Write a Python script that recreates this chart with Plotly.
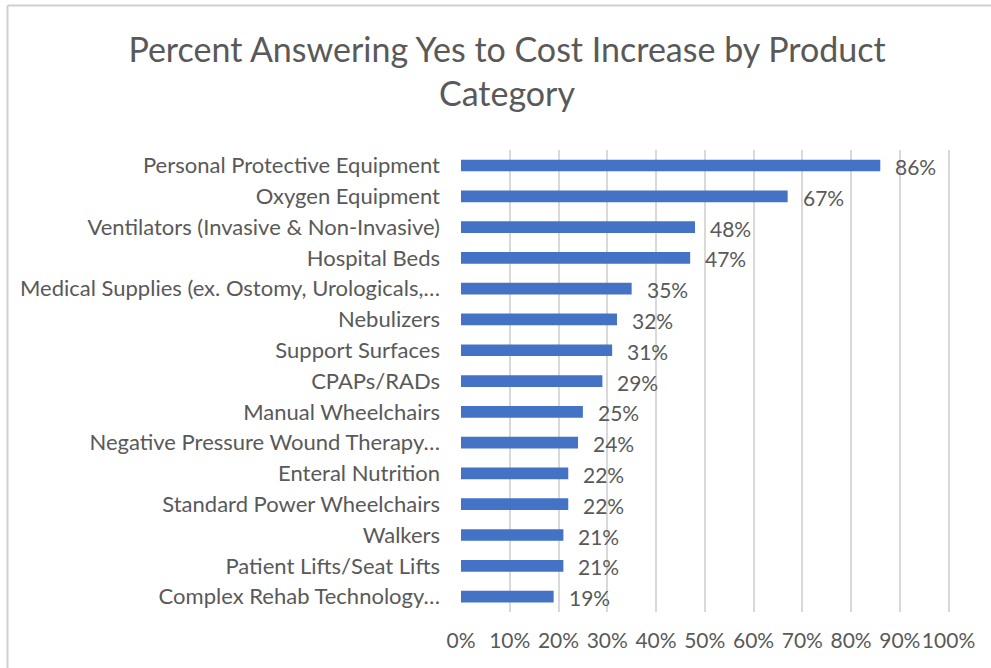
import plotly.graph_objects as go

categories = [
    "Personal Protective Equipment",
    "Oxygen Equipment",
    "Ventilators (Invasive & Non-Invasive)",
    "Hospital Beds",
    "Medical Supplies (ex. Ostomy, Urologicals,…",
    "Nebulizers",
    "Support Surfaces",
    "CPAPs/RADs",
    "Manual Wheelchairs",
    "Negative Pressure Wound Therapy…",
    "Enteral Nutrition",
    "Standard Power Wheelchairs",
    "Walkers",
    "Patient Lifts/Seat Lifts",
    "Complex Rehab Technology…",
]
values = [86, 67, 48, 47, 35, 32, 31, 29, 25, 24, 22, 22, 21, 21, 19]
tick_vals = [0, 10, 20, 30, 40, 50, 60, 70, 80, 90, 100]
tick_text = [f"{t}%" for t in tick_vals]
title = "Percent Answering Yes to Cost Increase by Product<br>Category"

FONT = "Lato"
GREY = "#595959"
FS = 21

fig = go.Figure()
fig.add_trace(go.Bar(
    x=values, y=categories, orientation="h",
    marker=dict(color="#4472C4", line=dict(width=0)),
    width=0.38, hoverinfo="skip",
))

for c, v in zip(categories, values):
    fig.add_annotation(x=v, y=c, text=f"{v}%", showarrow=False,
                       xanchor="left", xshift=13, yshift=-1,
                       font=dict(family=FONT, size=FS, color=GREY))

W, H = 991, 668
ml, mr, mt, mb = 461, 40, 150, 56
pw, ph = W - ml - mr, H - mt - mb

# chart border (top and left), in paper coords
bx = (7.5 - ml) / pw
by = (H - mb - 5.5) / ph
fig.add_shape(type="line", xref="paper", yref="paper", x0=bx, x1=(W - ml) / pw,
              y0=by, y1=by, line=dict(color="#D0D0D0", width=2))
fig.add_shape(type="line", xref="paper", yref="paper", x0=bx, x1=bx,
              y0=by, y1=(-mb) / ph, line=dict(color="#D0D0D0", width=2))

fig.update_layout(
    width=W, height=H,
    margin=dict(l=ml, r=mr, t=mt, b=mb, autoexpand=False),
    paper_bgcolor="white", plot_bgcolor="white",
    title=dict(text=title, x=507 / W, xanchor="center", y=1 - 62 / H, yanchor="middle",
               font=dict(family=FONT, size=34, color=GREY), automargin=False),
    showlegend=False,
)
fig.update_xaxes(range=[0, 100.5], tickvals=tick_vals, ticktext=tick_text,
                 showgrid=True, gridcolor="#D9D9D9", gridwidth=1.5,
                 zeroline=False, showline=False, automargin=False,
                 ticks="", ticklabelstandoff=14, tickangle=0,
                 tickfont=dict(family=FONT, size=FS, color=GREY))
fig.update_yaxes(autorange="reversed", showgrid=False, zeroline=False,
                 showline=False, ticks="", ticklabelstandoff=20, automargin=False,
                 tickfont=dict(family=FONT, size=22, color=GREY))

fig.write_html("out.html", config={"displayModeBar": False},
               post_script="document.body.style.margin='0';document.body.style.overflow='hidden';")
